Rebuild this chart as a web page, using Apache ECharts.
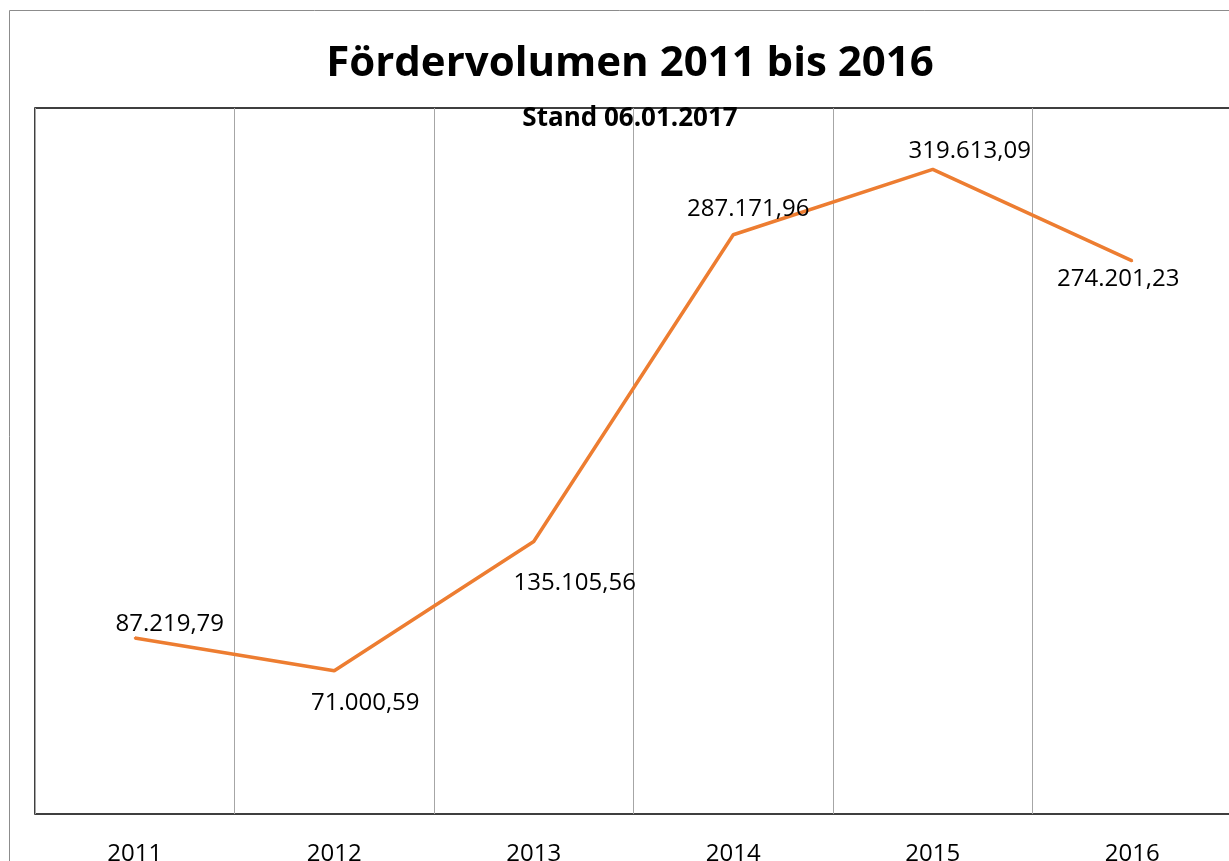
<!DOCTYPE html>
<html>
<head>
<meta charset="utf-8">
<script src="https://cdn.jsdelivr.net/npm/echarts@6/dist/echarts.min.js"></script>
<style>
  html, body { margin: 0; padding: 0; background: #fff; }
  #chart { width: 1229px; height: 861px; }
</style>
</head>
<body>
<div id="chart"></div>
<script>
// Daten
const years = ['2011', '2012', '2013', '2014', '2015', '2016'];
const volumen = [87219.79, 71000.59, 135105.56, 287171.96, 319613.09, 274201.23];
// Versatz der Datenbeschriftung (x, y) je Punkt
const labelOffsets = [[35, -14], [31, 32], [41, 42], [15, -26], [37, -18], [-14, 18]];

// deutsches Zahlenformat 1.234,56
function fmt(v) {
  const parts = v.toFixed(2).split('.');
  return parts[0].replace(/\B(?=(\d{3})+(?!\d))/g, '.') + ',' + parts[1];
}

const chart = echarts.init(document.getElementById('chart'));
const font = '"Open Sans", "Noto Sans", sans-serif';

chart.setOption({
  animation: false,
  backgroundColor: '#fff',
  title: [{
    text: 'Fördervolumen 2011 bis 2016',
    left: 625, top: 38, textAlign: 'center',
    textStyle: { fontFamily: font, fontWeight: 'bold', fontSize: 42, color: '#000' }
  }, {
    text: 'Stand 06.01.2017',
    left: 625, top: 101, textAlign: 'center',
    textStyle: { fontFamily: font, fontWeight: 'bold', fontSize: 26, color: '#000' }
  }],
  graphic: [{
    type: 'rect', silent: true, z: -1,
    shape: { x: 9.5, y: 10.5, width: 1300, height: 900 },
    style: { fill: 'none', stroke: '#8c8c8c', lineWidth: 1 }
  }],
  grid: {
    left: 35, top: 108, width: 1197, height: 706,
    outerBoundsMode: 'none', containLabel: false,
    show: true, borderColor: '#000', borderWidth: 1.5, backgroundColor: 'transparent'
  },
  xAxis: {
    type: 'category',
    data: years,
    boundaryGap: true,
    axisLine: { show: false },
    axisTick: { show: false },
    splitLine: { show: true, lineStyle: { color: '#a6a6a6', width: 1 } },
    axisLabel: { fontFamily: font, fontSize: 24, color: '#000', margin: 28 }
  },
  yAxis: {
    type: 'value', min: 0, max: 350000,
    show: false, splitLine: { show: false }
  },
  series: [{
    type: 'line',
    data: volumen.map((v, i) => ({
      value: v,
      label: { offset: labelOffsets[i] }
    })),
    symbol: 'circle', symbolSize: 2,
    itemStyle: { color: '#ED7D31' },
    lineStyle: { color: '#ED7D31', width: 3.5 },
    label: {
      show: true, position: 'inside',
      fontFamily: font, fontSize: 24, color: '#000',
      formatter: p => fmt(p.value)
    }
  }]
});
</script>
</body>
</html>
